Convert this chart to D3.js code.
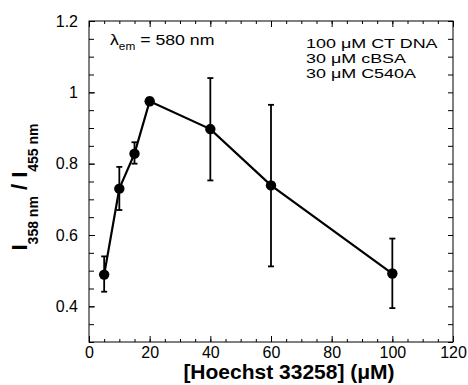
<!DOCTYPE html>
<html>
<head>
<meta charset="utf-8">
<script src="https://cdn.jsdelivr.net/npm/d3@7"></script>
<style>
  body { margin: 0; background: #fff; }
  svg { font-family: "Liberation Sans", Arial, Helvetica, sans-serif; }
</style>
</head>
<body>
<svg id="chart" width="468" height="385"></svg>
<script>
// Hoechst concentration (uM) and intensity ratio with error bar ends
const conc = [5, 10, 15, 20, 40, 60, 100];
const ratio = [0.489, 0.73, 0.828, 0.975, 0.897, 0.739, 0.492];
const errLow = [0.441, 0.67, 0.80, 0.965, 0.753, 0.512, 0.395];
const errHigh = [0.54, 0.791, 0.86, 0.985, 1.04, 0.965, 0.59];

const xMajor = [0, 20, 40, 60, 80, 100, 120];
const yMajor = [0.4, 0.6, 0.8, 1, 1.2];
const notes = ["100 \u03BCM CT DNA", "30 \u03BCM cBSA", "30 \u03BCM C540A"];

const margin = { left: 89, top: 21, right: 15, bottom: 43 };
const width = 468 - margin.left - margin.right, height = 385 - margin.top - margin.bottom;

const xs = d3.scaleLinear().domain([0, 120]).range([0, width]);
const ys = d3.scaleLinear().domain([0.3, 1.2]).range([height, 0]);

const svg = d3.select("#chart");
const g = svg.append("g").attr("transform", `translate(${margin.left}, ${margin.top})`);

const xMinor = d3.range(0, 121, 5);
const yMinor = d3.range(0, 19).map(i => 0.3 + i * 0.05);

// frame
g.append("rect").attr("width", width).attr("height", height)
  .attr("fill", "none").attr("stroke", "#000").attr("stroke-width", 1);

function styleAxis(sel) {
  sel.select(".domain").remove();
  sel.selectAll("line").attr("stroke", "#000");
  sel.selectAll("text").filter(function() { return this.textContent === ""; }).remove();
  sel.selectAll("text").attr("fill", "#000").attr("font-size", 16);
}

// minor ticks on all sides
g.append("g").attr("transform", `translate(0, ${height})`)
  .call(d3.axisBottom(xs).tickValues(xMinor).tickSize(-3).tickFormat("")).call(styleAxis);
g.append("g").call(d3.axisTop(xs).tickValues(xMinor).tickSize(-3).tickFormat("")).call(styleAxis);
g.append("g").call(d3.axisLeft(ys).tickValues(yMinor).tickSize(-5).tickFormat("")).call(styleAxis);
g.append("g").attr("transform", `translate(${width}, 0)`)
  .call(d3.axisRight(ys).tickValues(yMinor).tickSize(-5).tickFormat("")).call(styleAxis);

// major ticks with labels
g.append("g").attr("transform", `translate(0, ${height})`)
  .call(d3.axisBottom(xs).tickValues(xMajor).tickSize(-6).tickPadding(5).tickFormat(d3.format("d"))).call(styleAxis);
g.append("g").call(d3.axisTop(xs).tickValues(xMajor).tickSize(-6).tickFormat("")).call(styleAxis);
g.append("g")
  .call(d3.axisLeft(ys).tickValues(yMajor).tickSize(-6).tickPadding(11).tickFormat(d => d === 1 ? "1" : d3.format(".1f")(d)))
  .call(styleAxis);

// error bars
const bars = g.append("g").attr("stroke", "#000").attr("stroke-width", 1.8);
conc.forEach((c, i) => {
  bars.append("line").attr("x1", xs(c)).attr("x2", xs(c)).attr("y1", ys(errLow[i])).attr("y2", ys(errHigh[i]));
  [errLow[i], errHigh[i]].forEach(v => {
    bars.append("line").attr("x1", xs(c) - 3).attr("x2", xs(c) + 3).attr("y1", ys(v)).attr("y2", ys(v));
  });
});

// line and markers
const line = d3.line().x((d, i) => xs(conc[i])).y(d => ys(d));
g.append("path").attr("d", line(ratio)).attr("fill", "none").attr("stroke", "#000").attr("stroke-width", 2.2);
g.append("g").selectAll("circle").data(ratio).enter().append("circle")
  .attr("cx", (d, i) => xs(conc[i])).attr("cy", d => ys(d)).attr("r", 5.2).attr("fill", "#000");

// annotations (the original type is set a bit wide, so stretch horizontally)
const lam = svg.append("text").attr("transform", "translate(110, 45) scale(1.18, 1)").attr("font-size", 15);
lam.append("tspan").text("\u03BB");
lam.append("tspan").attr("font-size", 10).attr("dy", 5).text("em");
lam.append("tspan").attr("dy", -5).text(" = 580 nm");

svg.append("g").selectAll("text").data(notes).enter().append("text")
  .attr("transform", (d, i) => `translate(306, ${48 + i * 15}) scale(1.38, 1)`)
  .attr("font-size", 13).text(d => d);

// axis titles
svg.append("text").attr("x", 289).attr("y", 379).attr("text-anchor", "middle")
  .attr("font-size", 21).attr("font-weight", "bold").text("[Hoechst 33258] (\u03BCM)");

const yt = svg.append("text").attr("transform", "translate(27, 187) rotate(-90)")
  .attr("text-anchor", "middle").attr("font-weight", "bold");
yt.append("tspan").attr("font-size", 22).text("I");
yt.append("tspan").attr("font-size", 14).attr("dy", 11).text("358 nm");
yt.append("tspan").attr("font-size", 22).attr("dy", -11).text(" / I");
yt.append("tspan").attr("font-size", 14).attr("dy", 11).text("455 nm");
</script>
</body>
</html>
